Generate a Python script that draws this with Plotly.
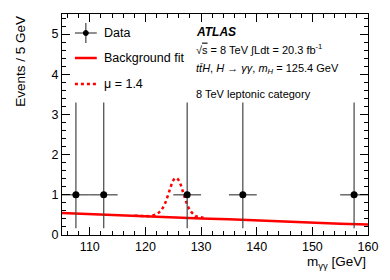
import plotly.graph_objects as go

# ---- data ----
data_mass = [107.5, 112.5, 127.5, 137.5, 157.5]
data_events = [1, 1, 1, 1, 1]
data_err_up = [2.30, 2.30, 2.30, 2.30, 2.30]
data_err_down = [0.83, 0.83, 0.83, 0.83, 0.83]
data_bin_half = [2.5, 2.5, 2.5, 2.5, 2.5]

bkg_mass = [105, 110, 115, 120, 125, 130, 135, 140, 145, 150, 155, 160]
bkg_values = [0.55, 0.52, 0.49, 0.47, 0.44, 0.41, 0.39, 0.36, 0.33, 0.31, 0.28, 0.26]

sig_mass = [118, 119, 120, 121, 122, 122.5, 123, 123.5, 124, 124.5, 125, 125.5,
            126, 126.5, 127, 127.5, 128, 128.5, 129, 130, 131]
sig_values = [0.48, 0.475, 0.47, 0.475, 0.52, 0.57, 0.65, 0.78, 0.97, 1.18, 1.36, 1.42,
              1.36, 1.18, 0.96, 0.76, 0.62, 0.53, 0.47, 0.44, 0.42]

FONT = "Liberation Sans, Arial, sans-serif"

L, R, T, B = 62, 370, 14, 235
W, H = 390, 280


def px(x):
    return (x - L) / (R - L)


def py(y):
    return (B - y) / (B - T)


fig = go.Figure()

fig.add_trace(go.Scatter(
    x=bkg_mass, y=bkg_values, mode="lines",
    line=dict(color="#ff0000", width=2.5), showlegend=False, hoverinfo="skip"))

fig.add_trace(go.Scatter(
    x=sig_mass, y=sig_values, mode="lines", line_shape="spline",
    line=dict(color="#ff0000", width=2.5, dash="dot"), showlegend=False, hoverinfo="skip"))

fig.add_trace(go.Scatter(
    x=data_mass, y=data_events, mode="markers",
    marker=dict(color="black", size=7),
    error_y=dict(type="data", symmetric=False, array=data_err_up, arrayminus=data_err_down,
                 color="#444444", thickness=1.2, width=0),
    error_x=dict(type="data", array=data_bin_half, color="#444444", thickness=1.2, width=0),
    showlegend=False))

shapes = []
anns = []

# legend
lx0, lx1 = px(75), px(97)
shapes.append(dict(type="line", xref="paper", yref="paper", x0=lx0, x1=lx1, y0=py(33), y1=py(33),
                   line=dict(color="#444444", width=1.2)))
shapes.append(dict(type="line", xref="paper", yref="paper", x0=px(86), x1=px(86), y0=py(23), y1=py(43),
                   line=dict(color="#444444", width=1.2)))
shapes.append(dict(type="circle", xref="paper", yref="paper", x0=px(83.5), x1=px(88.5), y0=py(35.5), y1=py(30.5),
                   fillcolor="black", line=dict(color="black", width=1)))
shapes.append(dict(type="line", xref="paper", yref="paper", x0=lx0, x1=lx1, y0=py(58), y1=py(58),
                   line=dict(color="#ff0000", width=2.5)))
shapes.append(dict(type="line", xref="paper", yref="paper", x0=lx0, x1=lx1, y0=py(84), y1=py(84),
                   line=dict(color="#ff0000", width=2.5, dash="dot")))

for txt, yy in [("Data", 33), ("Background fit", 58), ("μ = 1.4", 84)]:
    anns.append(dict(text=txt, xref="paper", yref="paper", x=px(102), y=py(yy),
                     xanchor="left", yanchor="middle", showarrow=False,
                     font=dict(family=FONT, size=12.5, color="black")))

# right text block
right_txt = [
    ("<b><i>ATLAS</i></b>", 32, 12),
    ("√<span style='text-decoration:overline'>s</span> = 8 TeV ∫Ldt = 20.3 fb<sup>-1</sup>", 50, 11),
    ("<i>t</i><i>t\u0304</i><i>H</i>, <i>H</i> → <i>γγ</i>, <i>m<sub>H</sub></i> = 125.4 GeV", 69, 11),
    ("8 TeV leptonic category", 94, 11),
]
for txt, yy, sz in right_txt:
    anns.append(dict(text=txt, xref="paper", yref="paper", x=px(195), y=py(yy),
                     xanchor="left", yanchor="middle", showarrow=False,
                     font=dict(family=FONT, size=sz, color="black")))

# axis titles
anns.append(dict(text="m<sub>γγ</sub> [GeV]", xref="paper", yref="paper", x=1.0, y=py(262),
                 xanchor="right", yanchor="middle", showarrow=False,
                 font=dict(family=FONT, size=13.5, color="black")))
anns.append(dict(text="Events / 5 GeV", xref="paper", yref="paper", x=px(20), y=1.0,
                 xanchor="center", yanchor="top", textangle=-90, showarrow=False,
                 font=dict(family=FONT, size=13.5, color="black")))

axis_common = dict(
    showline=True, linecolor="black", linewidth=1.2, mirror="allticks",
    ticks="inside", tickcolor="black", tickwidth=1, showgrid=False, zeroline=False,
    tickfont=dict(family=FONT, size=12.5, color="black"),
)

fig.update_layout(
    width=W, height=H,
    margin=dict(l=L, r=W - R, t=T, b=H - B),
    paper_bgcolor="white", plot_bgcolor="white",
    xaxis=dict(range=[105, 160], dtick=10, tick0=100, ticklen=8,
               minor=dict(dtick=2, tick0=100, ticklen=4, ticks="inside", tickcolor="black", showgrid=False),
               **axis_common),
    yaxis=dict(range=[0, 5.5], dtick=1, tick0=0, ticklen=8,
               minor=dict(dtick=0.2, tick0=0, ticklen=4, ticks="inside", tickcolor="black", showgrid=False),
               **axis_common),
    shapes=shapes, annotations=anns, showlegend=False,
)

fig.write_html("out.html", config={"displayModeBar": False},
               post_script="document.body.style.margin='0';document.body.style.overflow='hidden';")
